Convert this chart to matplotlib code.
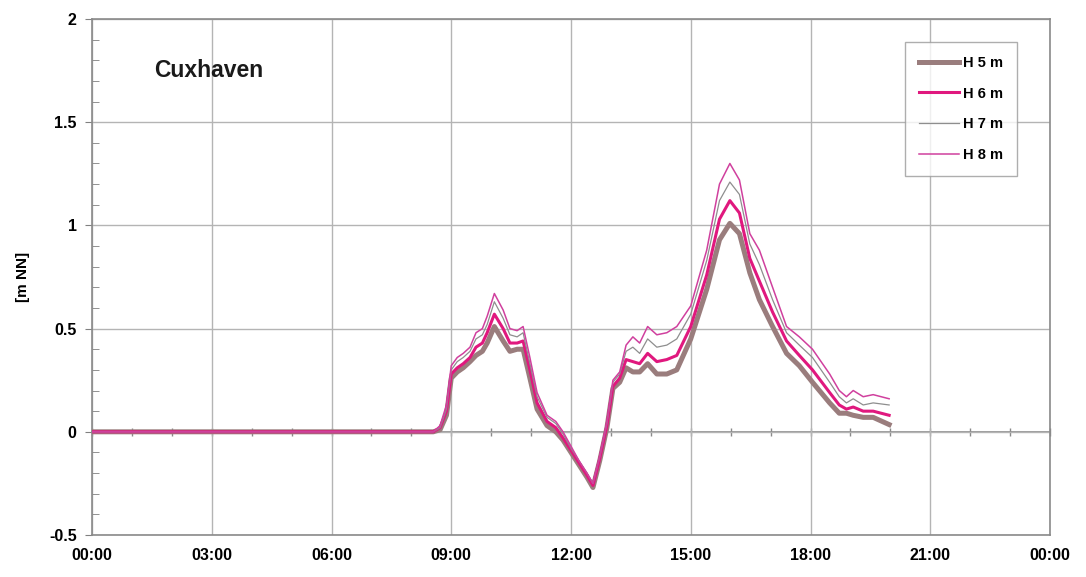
import matplotlib
matplotlib.use("Agg")
import matplotlib.pyplot as plt
from matplotlib.ticker import MultipleLocator

plt.rcParams['font.family'] = ['Liberation Sans', 'DejaVu Sans']

# time in hours since 00:00
hours = [0, 8.55, 8.72, 8.88, 9.0, 9.15, 9.3, 9.47, 9.62, 9.78, 9.9, 10.08, 10.3, 10.47,
         10.65, 10.8, 10.97, 11.15, 11.4, 11.62, 11.8, 12.0, 12.2, 12.4, 12.55, 12.72,
         12.9, 13.05, 13.22, 13.38, 13.55, 13.72, 13.92, 14.15, 14.4, 14.65, 15.0, 15.4,
         15.72, 15.98, 16.22, 16.48, 16.72, 17.05, 17.4, 17.72, 18.05, 18.48, 18.72,
         18.9, 19.07, 19.32, 19.57, 19.97]

h5 = [0, 0, 0.01, 0.08, 0.26, 0.29, 0.31, 0.34, 0.37, 0.39, 0.43, 0.51, 0.44, 0.39,
      0.40, 0.40, 0.26, 0.11, 0.03, 0.0, -0.04, -0.10, -0.16, -0.22, -0.27, -0.14,
      0.02, 0.21, 0.24, 0.31, 0.29, 0.29, 0.33, 0.28, 0.28, 0.30, 0.45, 0.69,
      0.93, 1.01, 0.96, 0.77, 0.64, 0.51, 0.38, 0.32, 0.24, 0.14, 0.09,
      0.09, 0.08, 0.07, 0.07, 0.035]

h6 = [0, 0, 0.02, 0.10, 0.28, 0.31, 0.33, 0.36, 0.41, 0.43, 0.48, 0.57, 0.50, 0.43,
      0.43, 0.44, 0.30, 0.14, 0.05, 0.02, -0.03, -0.09, -0.15, -0.21, -0.26, -0.13,
      0.03, 0.22, 0.26, 0.35, 0.34, 0.33, 0.38, 0.34, 0.35, 0.37, 0.51, 0.76,
      1.03, 1.12, 1.06, 0.84, 0.73, 0.58, 0.44, 0.37, 0.30, 0.19, 0.13,
      0.11, 0.12, 0.10, 0.10, 0.08]

h7 = [0, 0, 0.02, 0.11, 0.30, 0.34, 0.36, 0.39, 0.45, 0.47, 0.52, 0.63, 0.55, 0.47,
      0.46, 0.48, 0.33, 0.17, 0.07, 0.04, -0.01, -0.08, -0.14, -0.20, -0.25, -0.12,
      0.04, 0.24, 0.28, 0.39, 0.41, 0.38, 0.45, 0.41, 0.42, 0.45, 0.57, 0.83,
      1.12, 1.21, 1.15, 0.91, 0.81, 0.64, 0.48, 0.42, 0.36, 0.24, 0.17,
      0.14, 0.16, 0.13, 0.14, 0.13]

h8 = [0, 0, 0.03, 0.13, 0.32, 0.36, 0.38, 0.41, 0.48, 0.50, 0.56, 0.67, 0.59, 0.50,
      0.49, 0.51, 0.36, 0.19, 0.08, 0.05, 0.0, -0.07, -0.14, -0.20, -0.25, -0.12,
      0.05, 0.25, 0.29, 0.42, 0.46, 0.43, 0.51, 0.47, 0.48, 0.51, 0.61, 0.88,
      1.20, 1.30, 1.22, 0.96, 0.88, 0.70, 0.51, 0.46, 0.40, 0.28, 0.20,
      0.17, 0.20, 0.17, 0.18, 0.16]

xtick_labels = ["00:00", "03:00", "06:00", "09:00", "12:00", "15:00", "18:00", "21:00", "00:00"]
ytick_labels = ["-0.5", "0", "0.5", "1", "1.5", "2"]

fig = plt.figure(figsize=(10.86, 5.77), dpi=100)
ax = fig.add_axes([92 / 1086, 1 - 535 / 577, 958 / 1086, 516 / 577])

ax.plot(hours, h5, color='#9a7d7d', lw=3.6, label='H 5 m', zorder=3)
ax.plot(hours, h6, color='#e0187e', lw=2.2, label='H 6 m', zorder=4)
ax.plot(hours, h7, color='#8e8e8e', lw=0.9, label='H 7 m', zorder=5)
ax.plot(hours, h8, color='#d0409e', lw=1.1, label='H 8 m', zorder=6)

ax.set_xlim(0, 24)
ax.set_ylim(-0.5, 2)
ax.set_xticks(range(0, 25, 3))
ax.set_xticklabels(xtick_labels, fontsize=11.5, fontweight='bold')
ax.set_yticks([-0.5, 0, 0.5, 1, 1.5, 2])
ax.set_yticklabels(ytick_labels, fontsize=11.5, fontweight='bold')
ax.yaxis.set_minor_locator(MultipleLocator(0.1))
ax.tick_params(axis='x', length=0, pad=9)
ax.tick_params(axis='y', which='major', length=5, direction='out', color='#808080', pad=6)
ax.tick_params(axis='y', which='minor', length=5, direction='in', color='#808080')
ax.grid(True, which='major', color='#b4b4b4', lw=1)
ax.set_axisbelow(True)
for s in ax.spines.values():
    s.set_color('#8a8a8a')
    s.set_linewidth(1.2)

# axis line through zero with hourly tick marks
zero_ax = ax.secondary_xaxis(0.2)
zero_ax.set_xticks(range(0, 25))
zero_ax.set_xticklabels([])
zero_ax.tick_params(length=6, direction='inout', color='#8a8a8a', width=1)
zero_ax.spines['bottom'].set_color('#8a8a8a')
zero_ax.spines['bottom'].set_linewidth(1.2)

ax.set_ylabel('[m NN]', fontsize=11, fontweight='bold', labelpad=14)

ax.text(0.065, 0.90, 'Cuxhaven', transform=ax.transAxes, fontsize=16.5,
        fontweight='bold', color='#1a1a1a', va='center')

leg = ax.legend(loc='upper right', bbox_to_anchor=(0.9655, 0.9555),
                prop={'weight': 'bold', 'size': 10.5}, frameon=True, fancybox=False,
                handlelength=2.7, labelspacing=1.15, borderpad=0.95, handletextpad=0.3,
                borderaxespad=0)
leg.get_frame().set_edgecolor('#9a9a9a')
leg.get_frame().set_linewidth(1)

fig.savefig('out.png', dpi=100)
